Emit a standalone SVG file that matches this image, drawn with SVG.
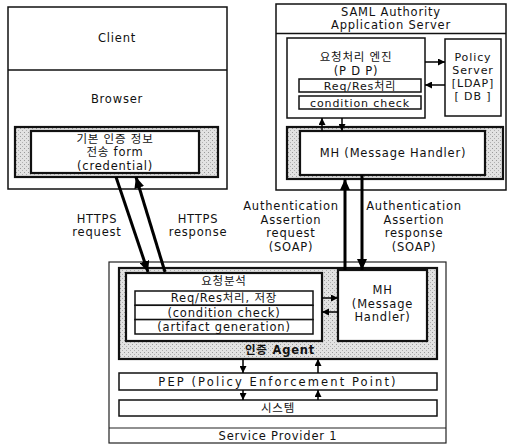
<svg xmlns="http://www.w3.org/2000/svg" width="510" height="447" viewBox="0 0 510 447">
<style>
text{font-family:"DejaVu Sans","Noto Sans CJK KR",sans-serif;font-size:11.5px;letter-spacing:0.8px;fill:#111;text-anchor:middle}
.s{font-size:11px;letter-spacing:0.9px}
.box{fill:#fff;stroke:#111;stroke-width:1.5}
.thick{fill:#fff;stroke:#111;stroke-width:2.2}
.shade{fill:url(#stip);stroke:#111;stroke-width:2.2}
.thin{fill:none;stroke:#222;stroke-width:1.2}
.big{stroke:#000;stroke-width:3;fill:none}
.sm{stroke:#000;stroke-width:1.5;fill:none}
</style>
<defs>
<pattern id="stip" width="4" height="4" patternUnits="userSpaceOnUse">
<rect width="4" height="4" fill="#e2e2e2"/>
<rect x="0" y="0" width="1" height="1" fill="#9a9a9a"/>
<rect x="2" y="2" width="1" height="1" fill="#b0b0b0"/>
</pattern>
<marker id="ab" markerUnits="userSpaceOnUse" markerWidth="12" markerHeight="10" refX="11" refY="5" orient="auto">
<path d="M0,0 L11,5 L0,10 z" fill="#000"/>
</marker>
<marker id="as" markerUnits="userSpaceOnUse" markerWidth="8" markerHeight="7" refX="7" refY="3.5" orient="auto">
<path d="M0,0 L7,3.5 L0,7 z" fill="#000"/>
</marker>
</defs>
<rect width="510" height="447" fill="#fff"/>

<g id="client">
<rect class="box" x="8" y="7" width="219" height="182"/>
<line x1="8" y1="70" x2="227" y2="70" stroke="#111" stroke-width="1.5"/>
<text x="117" y="41.5">Client</text>
<text x="117" y="102.5">Browser</text>
</g>
<g id="credential">
<rect class="shade" x="15" y="127" width="203" height="50"/>
<rect class="thick" x="31" y="131" width="168" height="42"/>
<text x="115" y="142.5">기본 인증 정보</text>
<text x="115" y="156">전송 form</text>
<text x="115" y="169.5">(credential)</text>
</g>

<g id="saml">
<rect class="box" x="276" y="4" width="230" height="186"/>
<line x1="276" y1="33.5" x2="506" y2="33.5" stroke="#111" stroke-width="1.5"/>
<text x="391" y="15.5">SAML Authority</text>
<text x="391" y="28.5">Application Server</text>
</g>
<g id="pdp">
<rect class="box" x="287" y="38" width="138" height="80"/>
<text x="356" y="61">요청처리 엔진</text>
<text x="356" y="74.5">(P D P)</text>
<rect class="box" x="299" y="79" width="122" height="13"/>
<text x="360" y="89.5" class="s">Req/Res처리</text>
<rect class="box" x="299" y="96" width="122" height="13"/>
<text x="360" y="106.5" class="s">condition check</text>
</g>
<g id="policy">
<rect class="box" x="445" y="39" width="56" height="77"/>
<text x="473" y="61" class="s">Policy</text>
<text x="473" y="74" class="s">Server</text>
<text x="473" y="87" class="s">[LDAP]</text>
<text x="473" y="100" class="s">[ DB ]</text>
</g>
<g id="mh-saml">
<rect class="shade" x="287" y="127" width="216" height="52"/>
<rect class="thick" x="300" y="131" width="185" height="44"/>
<text x="393" y="157">MH (Message Handler)</text>
</g>

<g id="sp">
<rect class="thin" x="109" y="262" width="337" height="181"/>
<line x1="109" y1="428" x2="446" y2="428" stroke="#222" stroke-width="1.2"/>
<text x="278" y="440">Service Provider 1</text>
</g>
<g id="agent">
<rect class="shade" x="119" y="268" width="318" height="91"/>
<text x="280" y="354" style="font-weight:bold">인증 Agent</text>
</g>
<g id="request-analysis">
<rect class="thick" x="126" y="273" width="196" height="68"/>
<text x="224" y="285">요청분석</text>
<rect class="box" x="135" y="291" width="178" height="14.3"/>
<rect class="box" x="135" y="305.3" width="178" height="14.3"/>
<rect class="box" x="135" y="319.6" width="178" height="14.4"/>
<text x="224" y="302">Req/Res처리, 저장</text>
<text x="224" y="316.5">(condition check)</text>
<text x="224" y="330.5">(artifact generation)</text>
</g>
<g id="mh-sp">
<rect class="thick" x="338" y="270" width="89" height="71"/>
<text x="382.5" y="294">MH</text>
<text x="382.5" y="307.5">(Message</text>
<text x="382.5" y="321">Handler)</text>
</g>
<g id="pep">
<rect class="box" x="119" y="373" width="318" height="17"/>
<text x="278" y="385.5" style="letter-spacing:2.1px">PEP (Policy Enforcement Point)</text>
</g>
<g id="system">
<rect class="box" x="119" y="400" width="318" height="16"/>
<text x="278" y="412">시스템</text>
</g>

<g id="connectors">
<line class="big" x1="116" y1="177" x2="148" y2="272" marker-end="url(#ab)"/>
<line class="big" x1="165" y1="272" x2="136" y2="177" marker-end="url(#ab)"/>
<line class="big" x1="345" y1="270" x2="345" y2="179" marker-end="url(#ab)"/>
<line class="big" x1="362" y1="175" x2="362" y2="270" marker-end="url(#ab)"/>
<line class="sm" x1="425" y1="62" x2="445" y2="62" marker-end="url(#as)"/>
<line class="sm" x1="445" y1="85" x2="425" y2="85" marker-end="url(#as)"/>
<line class="sm" x1="322" y1="131" x2="322" y2="118" marker-end="url(#as)"/>
<line class="sm" x1="342" y1="118" x2="342" y2="131" marker-end="url(#as)"/>
<line class="sm" x1="322" y1="298" x2="338" y2="298" marker-end="url(#as)"/>
<line class="sm" x1="338" y1="312" x2="322" y2="312" marker-end="url(#as)"/>
<line class="sm" x1="243" y1="359" x2="243" y2="373" marker-end="url(#as)"/>
<line class="sm" x1="318" y1="373" x2="318" y2="359" marker-end="url(#as)"/>
<line class="sm" x1="243" y1="390" x2="243" y2="400" marker-end="url(#as)"/>
<line class="sm" x1="318" y1="400" x2="318" y2="390" marker-end="url(#as)"/>
<text x="97" y="222.5">HTTPS</text>
<text x="97" y="236">request</text>
<text x="198" y="222.5">HTTPS</text>
<text x="198" y="236">response</text>
<text x="291" y="210">Authentication</text>
<text x="291" y="223.5">Assertion</text>
<text x="291" y="237">request</text>
<text x="291" y="250.5">(SOAP)</text>
<text x="414" y="210">Authentication</text>
<text x="414" y="223.5">Assertion</text>
<text x="414" y="237">response</text>
<text x="414" y="250.5">(SOAP)</text>
</g>
</svg>
